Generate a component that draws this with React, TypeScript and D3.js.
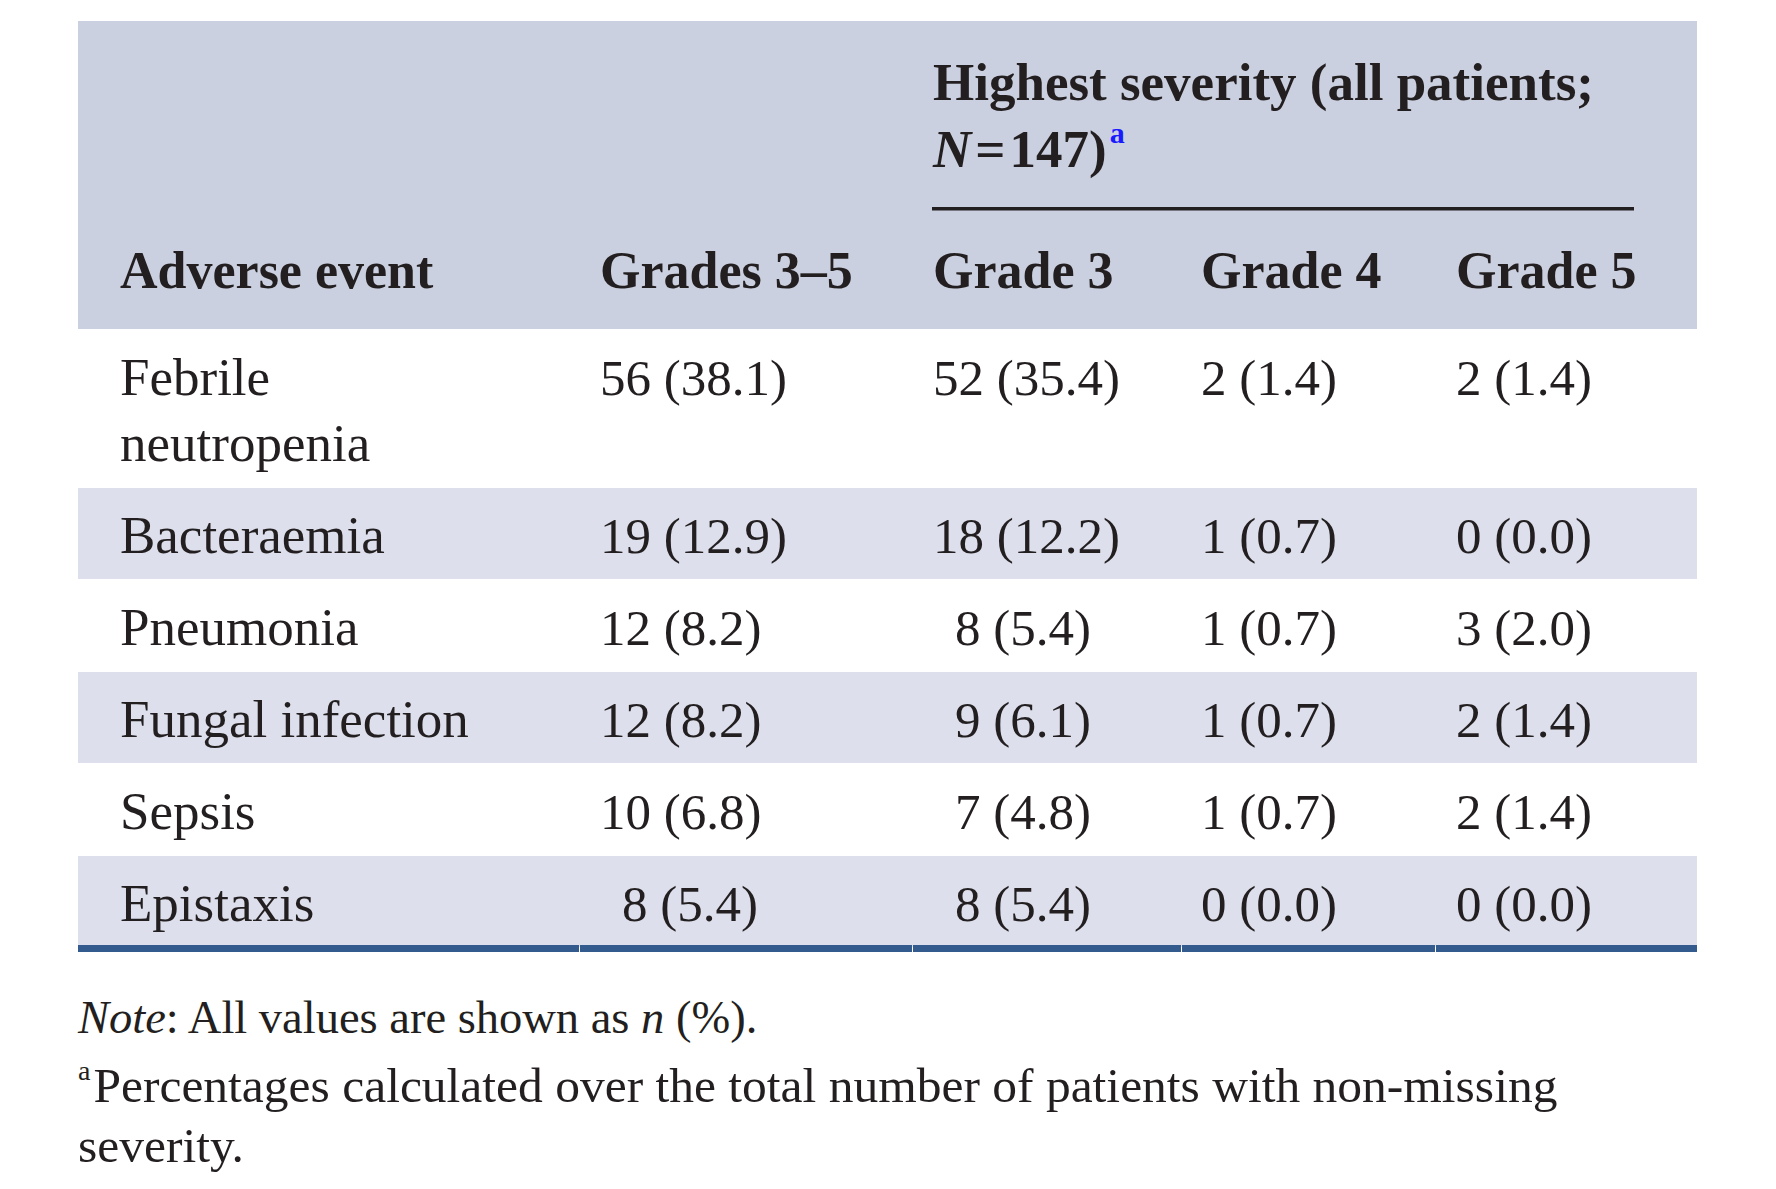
import React from "react";
import * as d3 from "d3";

const events = [
  ["Febrile", "neutropenia"],
  ["Bacteraemia"],
  ["Pneumonia"],
  ["Fungal infection"],
  ["Sepsis"],
  ["Epistaxis"],
];
const grades35N = [56, 19, 12, 12, 10, 8];
const grades35Pct = [38.1, 12.9, 8.2, 8.2, 6.8, 5.4];
const grade3N = [52, 18, 8, 9, 7, 8];
const grade3Pct = [35.4, 12.2, 5.4, 6.1, 4.8, 5.4];
const grade4N = [2, 1, 1, 1, 1, 0];
const grade4Pct = [1.4, 0.7, 0.7, 0.7, 0.7, 0.0];
const grade5N = [2, 0, 3, 2, 2, 0];
const grade5Pct = [1.4, 0.0, 2.0, 1.4, 1.4, 0.0];

const columnHeaders = ["Adverse event", "Grades 3–5", "Grade 3", "Grade 4", "Grade 5"];
const spanHeaderLine1 = "Highest severity (all patients;";
const spanN = 147;
const noteLine = "All values are shown as";
const footnoteLine1 = "Percentages calculated over the total number of patients with non-missing";
const footnoteLine2 = "severity.";

const W = 1776;
const H = 1189;
const FONT = "'Liberation Serif', 'Times New Roman', serif";
const HEADER_BG = "#cbd0e0";
const ROW_BG = "#dde0ec";
const BLUE = "#345b8e";
const TEXT = "#231f20";

export default function App() {
  const tableLeft = 78;
  const tableRight = 1697;
  const headerTop = 21;
  const headerBottom = 329;
  const lineH = 66;
  const rowPad = 26;

  const valueCols = [
    { n: grades35N, p: grades35Pct },
    { n: grade3N, p: grade3Pct },
    { n: grade4N, p: grade4Pct },
    { n: grade5N, p: grade5Pct },
  ];

  const colX = d3.scaleOrdinal<number, number>().domain([0, 1, 2, 3, 4]).range([120, 600, 933, 1201, 1456]);
  const colBounds = [tableLeft, 579, 912, 1181, 1435, tableRight];

  const rowHeights = events.map((e) => e.length * lineH + rowPad);
  const rowTops: number[] = [];
  let acc = headerBottom;
  rowHeights.forEach((h) => {
    rowTops.push(acc);
    acc += h;
  });
  const tableBottom = acc;

  const fmt = d3.format(".1f");
  const digitPad = 22;

  return (
    <svg width={W} height={H} style={{ position: "absolute", left: 0, top: 0, background: "#fff" }}
      fontFamily={FONT}>
      <rect x={0} y={0} width={W} height={H} fill="#fff" />
      <rect x={tableLeft} y={headerTop} width={tableRight - tableLeft} height={headerBottom - headerTop} fill={HEADER_BG} />
      <text x={colX(2)} y={100} fontSize={53} fontWeight="bold" fill={TEXT}>{spanHeaderLine1}</text>
      <text x={colX(2)} y={167} fontSize={53} fontWeight="bold" fill={TEXT}>
        <tspan fontStyle="italic">N</tspan>
        <tspan dx={4}>=</tspan>
        <tspan dx={4}>{spanN + ")"}</tspan>
        <tspan fill="#1a1aff" fontSize={30} dy={-24} dx={3}>a</tspan>
      </text>
      <rect x={932} y={207} width={1634 - 932} height={3.5} fill={TEXT} />
      {columnHeaders.map((h, i) => (
        <text key={h} x={colX(i)} y={288} fontSize={52} fontWeight="bold" fill={TEXT}>{h}</text>
      ))}

      {events.map((ev, r) => {
        const top = rowTops[r];
        const h = rowHeights[r];
        return (
          <g key={r}>
            {r % 2 === 1 && (
              <rect x={tableLeft} y={top + 1} width={tableRight - tableLeft} height={h - 1} fill={ROW_BG} />
            )}
            {ev.map((line, li) => (
              <text key={li} x={colX(0)} y={top + 66 + li * lineH} fontSize={53} fill={TEXT}>{line}</text>
            ))}
            {valueCols.map((c, ci) => {
              const hasTwoDigit = d3.max(c.n)! >= 10;
              const pad = hasTwoDigit && c.n[r] < 10 ? digitPad : 0;
              return (
                <text key={ci} x={colX(ci + 1) + pad} y={top + 66} fontSize={51} fill={TEXT}>
                  {`${c.n[r]} (${fmt(c.p[r])})`}
                </text>
              );
            })}
          </g>
        );
      })}

      {colBounds.slice(0, -1).map((x0, i) => {
        const x1 = colBounds[i + 1];
        const xs = i === 0 ? x0 : x0 + 1;
        return <rect key={i} x={xs} y={tableBottom - 2} width={x1 - xs} height={7} fill={BLUE} />;
      })}

      <text x={tableLeft} y={1033} fontSize={46.5} fill={TEXT}>
        <tspan fontStyle="italic">Note</tspan>
        <tspan>{": " + noteLine + " "}</tspan>
        <tspan fontStyle="italic">n</tspan>
        <tspan>{" (%)."}</tspan>
      </text>
      <text x={tableLeft} y={1102} fontSize={49.5} fill={TEXT}>
        <tspan fontSize={28} dy={-22}>a</tspan>
        <tspan dy={22} dx={3}>{footnoteLine1}</tspan>
      </text>
      <text x={tableLeft} y={1162} fontSize={49.5} fill={TEXT}>{footnoteLine2}</text>
    </svg>
  );
}
